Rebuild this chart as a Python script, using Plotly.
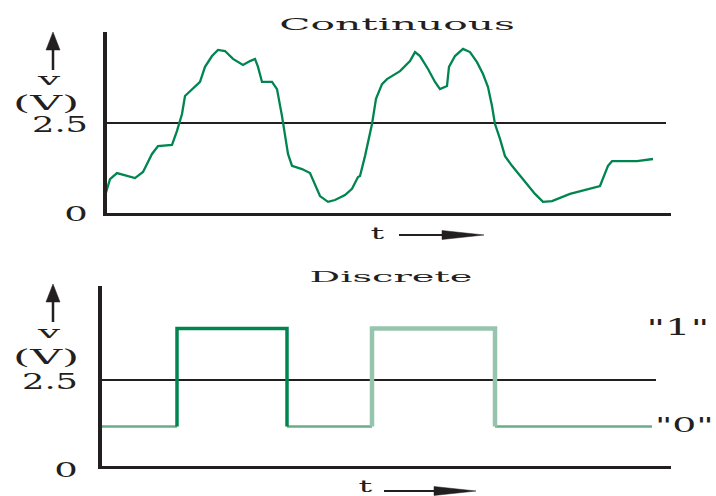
import json
import plotly.graph_objects as go

# ---------------- data ----------------
# Continuous signal (t in arbitrary time units, v in volts)
cont_t = [0, 5, 12, 30, 38, 47, 53, 67, 72, 77, 80, 90, 95, 100, 107, 113, 120, 128,
          138, 145, 150, 153, 157, 167, 172, 177, 180, 183, 187, 197, 205, 210, 215,
          223, 230, 240, 247, 253, 255, 260, 267, 271, 277, 282, 295, 305, 310, 315,
          323, 330, 335, 342, 344, 350, 358, 365, 372, 378, 383, 387, 390, 395, 400,
          407, 415, 422, 430, 438, 447, 465, 480, 495, 503, 507, 532, 548]
cont_v = [0.47, 0.94, 1.11, 0.97, 1.14, 1.64, 1.86, 1.89, 2.28, 2.75, 3.25, 3.50, 3.64,
          4.06, 4.36, 4.53, 4.50, 4.28, 4.11, 4.22, 4.28, 4.06, 3.64, 3.64, 3.44, 2.69,
          2.11, 1.64, 1.31, 1.22, 1.11, 0.81, 0.47, 0.31, 0.36, 0.50, 0.67, 1.00, 1.03,
          1.58, 2.47, 3.17, 3.58, 3.72, 3.94, 4.22, 4.47, 4.36, 4.00, 3.64, 3.44, 3.53,
          4.06, 4.36, 4.56, 4.47, 4.19, 3.86, 3.50, 2.97, 2.47, 2.06, 1.58, 1.31, 1.03,
          0.78, 0.53, 0.31, 0.33, 0.53, 0.64, 0.75, 1.31, 1.44, 1.44, 1.50]

# Discrete signal: switching instants and the two logic levels
disc_edges = [77, 187, 272, 395]
disc_start = 0
disc_end = 552
disc_low = 1.15
disc_high = 4.0

threshold = 2.5
cont_threshold_end = 561
disc_threshold_end = 556

y_tickvals = [0, 2.5]
y_ticktext = ["0", "2.5"]

titles = ["Continuous", "Discrete"]
level_labels = ['"1"', '"0"']
axis_unit = ["v", "(V)"]
time_label = "t"

# ---------------- styling ----------------
W, H = 716, 496
INK = "#231f20"
GREEN = "rgb(0,133,80)"
GREEN_LIGHT = "rgb(105,172,138)"
GREEN_PALE = "rgb(150,196,172)"
FONT = "DejaVu Serif"


def px(x):
    return x / W


def py(y):
    return 1 - y / H


fig = go.Figure()

# ----- top panel: continuous -----
fig.add_trace(go.Scatter(x=[0, cont_threshold_end], y=[threshold, threshold], mode="lines",
                         line=dict(color=INK, width=2), xaxis="x", yaxis="y", hoverinfo="skip"))
fig.add_trace(go.Scatter(x=cont_t, y=cont_v, mode="lines",
                         line=dict(color=GREEN, width=2.3), xaxis="x", yaxis="y"))

# ----- bottom panel: discrete -----
fig.add_trace(go.Scatter(x=[0, disc_threshold_end], y=[threshold, threshold], mode="lines",
                         line=dict(color=INK, width=2), xaxis="x2", yaxis="y2", hoverinfo="skip"))
e1, e2, e3, e4 = disc_edges
for a, b in [(disc_start, e1), (e2, e3), (e4, disc_end)]:
    fig.add_trace(go.Scatter(x=[a, b], y=[disc_low, disc_low], mode="lines",
                             line=dict(color=GREEN_LIGHT, width=2.5), xaxis="x2", yaxis="y2"))
fig.add_trace(go.Scatter(x=[e1, e1, e2, e2], y=[disc_low, disc_high, disc_high, disc_low],
                         mode="lines", line=dict(color=GREEN, width=3.5), xaxis="x2", yaxis="y2"))
fig.add_trace(go.Scatter(x=[e3, e3, e4, e4], y=[disc_low, disc_high, disc_high, disc_low],
                         mode="lines", line=dict(color=GREEN_PALE, width=4.5), xaxis="x2", yaxis="y2"))

# ----- texts (each with a horizontal stretch factor applied after render) -----
annotations = []
stretch = []


def label(text, x, y, size, sx, xanchor="center", yref="paper", yval=None, yshift=0):
    ann = dict(text=text, x=px(x), xref="paper", showarrow=False,
               xanchor=xanchor, yanchor="middle", yshift=yshift, borderpad=0,
               font=dict(family=FONT, size=size, color=INK))
    if yref == "paper":
        ann.update(y=py(y), yref="paper")
    else:
        ann.update(y=yval, yref=yref)
    annotations.append(ann)
    stretch.append([sx, "100%" if xanchor == "right" else ("0%" if xanchor == "left" else "50%")])


label(titles[0], 397, 24, 17, 2.4)
label(titles[1], 391, 277, 15, 2.55)
label(level_labels[0], 678, 327, 23, 1.75)
label(level_labels[1], 684, 425, 21, 1.8)

# top panel captions and tick labels
label(axis_unit[0], 48, 79, 17, 2.3)
label(axis_unit[1], 46, 103, 20, 2.2)
label(time_label, 377, 233, 17, 2.0)
label(y_ticktext[1], 89, 0, 22, 1.6, xanchor="right", yref="y", yval=y_tickvals[1], yshift=-2)
label(y_ticktext[0], 89, 0, 20, 1.85, xanchor="right", yref="y", yval=y_tickvals[0], yshift=-1)

# bottom panel captions and tick labels
label(axis_unit[0], 48, 332, 17, 2.3)
label(axis_unit[1], 46, 357, 20, 2.2)
label(time_label, 365, 486, 17, 2.0)
label(y_ticktext[1], 79, 0, 22, 1.6, xanchor="right", yref="y2", yval=y_tickvals[1], yshift=-1)
label(y_ticktext[0], 79, 0, 20, 1.85, xanchor="right", yref="y2", yval=y_tickvals[0], yshift=-4)

# ----- decorative arrows (shapes in paper space) -----
shapes = []


def line_shape(x0, y0, x1, y1, w):
    shapes.append(dict(type="line", xref="paper", yref="paper", x0=px(x0), y0=py(y0),
                       x1=px(x1), y1=py(y1), line=dict(color=INK, width=w)))


def tri_shape(pts):
    p = "M " + " L ".join(f"{px(a):.5f},{py(b):.5f}" for a, b in pts) + " Z"
    shapes.append(dict(type="path", xref="paper", yref="paper", path=p,
                       fillcolor=INK, line=dict(color=INK, width=0.5)))


# vertical "v" arrows
for tip, base in [(32, 70), (284, 322)]:
    line_shape(53, tip + 14, 53, base, 2.5)
    tri_shape([(46, tip + 18), (53, tip), (60, tip + 18)])
# horizontal "t" arrows
for x0, x1, yy in [(399, 484, 235), (384, 476, 491)]:
    line_shape(x0, yy, x1 - 36, yy, 2)
    tri_shape([(x1 - 42, yy - 4.5), (x1, yy), (x1 - 42, yy + 4.5)])

axis_common = dict(showline=True, linecolor=INK, showgrid=False, zeroline=False,
                   fixedrange=True, showticklabels=False, ticks="")

fig.update_layout(
    width=W, height=H,
    margin=dict(l=0, r=0, t=0, b=0),
    paper_bgcolor="white", plot_bgcolor="white",
    showlegend=False,
    xaxis=dict(domain=[px(107), px(671)], range=[2, 566], anchor="y", linewidth=3, **axis_common),
    yaxis=dict(domain=[py(213), py(32)], range=[0, (213 - 32) / 36], anchor="x", linewidth=4,
               **axis_common),
    xaxis2=dict(domain=[px(102), px(671)], range=[2, 571], anchor="y2", linewidth=3, **axis_common),
    yaxis2=dict(domain=[py(466), py(286)], range=[0, (466 - 286) / 34.4], anchor="x2", linewidth=4,
                **axis_common),
    annotations=annotations,
    shapes=shapes,
)

post = """
document.body.style.margin = '0';
var cfg = %s;
document.querySelectorAll('g.annotation').forEach(function(g) {
  var i = +g.getAttribute('data-index');
  var c = cfg[i];
  var t = g.querySelector('text.annotation-text');
  if (!c || !t) return;
  t.style.transformBox = 'fill-box';
  t.style.transformOrigin = c[1] + ' 50%%';
  t.style.transform = 'scaleX(' + c[0] + ')';
});
""" % json.dumps(stretch)

fig.write_html("out.html", post_script=post, config={"displayModeBar": False})
